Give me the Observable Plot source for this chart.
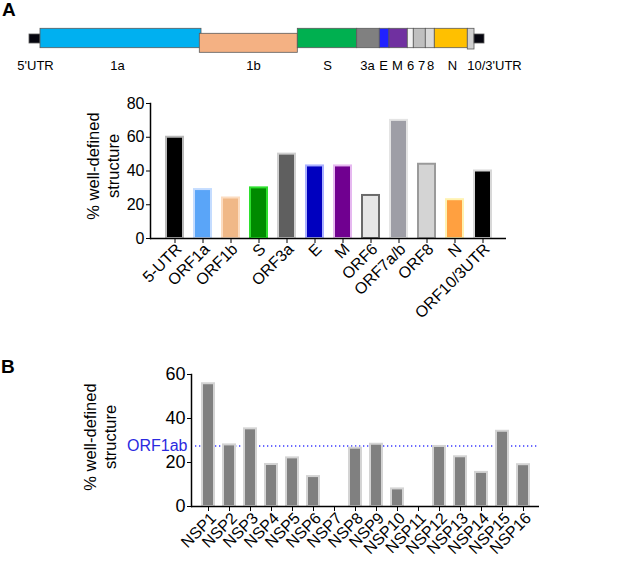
<!DOCTYPE html>
<html><head><meta charset="utf-8">
<script src="https://cdn.jsdelivr.net/npm/d3@7"></script>
<script src="https://cdn.jsdelivr.net/npm/@observablehq/plot@0.6"></script>
<style>
body{margin:0;background:#fff}
#root{position:relative;width:625px;height:561px;overflow:hidden;font-family:"Liberation Sans",Arial,sans-serif;color:#000}
.part{position:absolute;left:0}
.letter{position:absolute;font-weight:bold;font-size:19px;line-height:19px}
.ylab{position:absolute;width:200px;text-align:center;font-size:16.5px;line-height:20px;transform:rotate(-90deg)}
</style>
</head><body><div id="root"></div>
<script>
// ---------- Genome map (schematic map units) ----------
const genomeNames  = ["5'end","1a","1b","S","3a","E","M","6","7","8","N","10","3'end"];
const genomeStart  = [29, 40, 199.3, 297.3, 356.7, 379.3, 389, 407.3, 413.3, 425.3, 434.3, 467.3, 474];
const genomeEnd    = [40, 201, 297.3, 356.7, 379.3, 389, 407.3, 413.3, 425.3, 434.3, 467.3, 474, 484];
const genomeTrack  = ["cap","main","lower","main","main","main","main","main","main","main","main","tail","cap"];
const genomeColors = ["#05050f","#00b0f0","#f4b183","#00b050","#808080","#2121ff","#7030a0","#f2f2f2","#bfbfbf","#d9d9d9","#ffc000","#d0d0d0","#05050f"];
const genomeLabels = ["5'UTR","1a","1b","S","3a","E","M","6","7","8","N","10/3'UTR"];
const genomeLabelAt = [35, 117, 253, 327, 367, 383, 397, 410, 421, 430, 452, 494];

// ---------- Panel A ----------
const regionsA = ["5-UTR","ORF1a","ORF1b","S","ORF3a","E","M","ORF6","ORF7a/b","ORF8","N","ORF10/3UTR"];
const valuesA  = [60, 29, 24, 30, 50, 43, 43, 25.5, 70, 44, 23, 40];
const fillsA   = ["#000000","#5aa5f8","#f0b887","#008a00","#5f5f5f","#0000bf","#700090","#e6e6e6","#9e9ea6","#d4d4d4","#ffa040","#000000"];
const strokesA = ["#b8b8b8","#c4dcff","#fcdcc0","#2ee02e","#cfcfcf","#aab0ff","#e6b8f0","#6a6a6a","#e4e4e4","#9a9a9a","#fff2b0","#d8d8d8"];
const ticksA   = [0, 20, 40, 60, 80];

// ---------- Panel B ----------
const nsps    = ["NSP1","NSP2","NSP3","NSP4","NSP5","NSP6","NSP7","NSP8","NSP9","NSP10","NSP11","NSP12","NSP13","NSP14","NSP15","NSP16"];
const valuesB = [55.8, 28, 35.3, 19.1, 22.1, 13.6, 0, 26.5, 28.3, 8, 0, 27.3, 22.6, 15.5, 34.2, 19];
const orf1ab  = 27.5;
const ticksB  = [0, 20, 40, 60];

const FONT = '"Liberation Sans", Arial, sans-serif';
const root = document.getElementById("root");
function place(node, top) { const d = document.createElement("div"); d.className = "part"; d.style.top = top + "px"; d.appendChild(node); root.appendChild(d); return node; }
function html(cls, text, left, top) { const d = document.createElement("div"); d.className = cls; d.innerHTML = text; d.style.left = left + "px"; d.style.top = top + "px"; root.appendChild(d); return d; }

// Genome map
const trackY = {cap: [34, 43], main: [28.3, 47.7], lower: [33.3, 52.3], tail: [28.3, 49]};
const genome = genomeNames.map((n, i) => ({n, x1: genomeStart[i], x2: genomeEnd[i], y1: trackY[genomeTrack[i]][0], y2: trackY[genomeTrack[i]][1], fill: genomeColors[i]}));
const glabels = genomeLabels.map((t, i) => ({t, x: genomeLabelAt[i]}));
place(Plot.plot({
  width: 625, height: 80, margin: 0,
  x: {domain: [0, 625], range: [0, 625], axis: null},
  y: {domain: [0, 80], range: [0, 80], axis: null},
  style: {fontFamily: FONT, background: "transparent"},
  marks: [
    Plot.rect(genome, {x1: "x1", x2: "x2", y1: "y1", y2: "y2", fill: "fill", stroke: "#5a5a5a", strokeWidth: 0.8}),
    Plot.text(glabels, {x: "x", y: () => 65, text: "t", fontSize: 13, fill: "#000"})
  ]
}), 0);

// Panel A
const dataA = regionsA.map((r, i) => ({r, v: valuesA[i], fill: fillsA[i], stroke: strokesA[i]}));
place(Plot.plot({
  width: 625, height: 255,
  marginLeft: 150, marginRight: 119, marginTop: 18, marginBottom: 102,
  style: {fontFamily: FONT, fontSize: "16px", color: "#000", background: "transparent"},
  x: {type: "band", domain: regionsA, paddingInner: 0.41, paddingOuter: 0.36, axis: null},
  y: {domain: [0, 80], ticks: ticksA, tickSize: 4, tickPadding: 2, label: null},
  marks: [
    Plot.barY(dataA, {x: "r", y: "v", fill: "fill", stroke: "stroke", strokeWidth: 2}),
    Plot.axisX({tickSize: 5, tickFormat: () => "", label: null}),
    Plot.axisX({tickSize: 0, tickPadding: 8, tickRotate: -45, dx: 4, label: null, fontSize: 16}),
    Plot.ruleY([0], {stroke: "#000", strokeWidth: 1.5}),
    Plot.frame({anchor: "left", stroke: "#000", strokeWidth: 1.5})
  ]
}), 85);

// Panel B
const dataB = nsps.map((n, i) => ({n, v: valuesB[i]}));
const plotB = place(Plot.plot({
  width: 625, height: 201,
  marginLeft: 191, marginRight: 86, marginTop: 14, marginBottom: 55,
  style: {fontFamily: FONT, fontSize: "16px", color: "#000", background: "transparent"},
  x: {type: "band", domain: nsps, paddingInner: 0.44, paddingOuter: 0.46, axis: null},
  y: {domain: [0, 60], ticks: ticksB, tickSize: 4, tickPadding: 2, label: null},
  marks: [
    Plot.ruleY([orf1ab], {stroke: "#3a3aff", strokeWidth: 1.3, strokeDasharray: "1.3,2.7", insetLeft: 4}),
    Plot.text([orf1ab], {y: d => d, frameAnchor: "left", dx: -4, textAnchor: "end", text: () => "ORF1ab", fill: "#2a2ae0", fontSize: 16}),
    Plot.barY(dataB, {x: "n", y: "v", fill: "#808080", stroke: "#d4d4d4", strokeWidth: 2}),
    Plot.axisX({tickSize: 5, tickFormat: () => "", label: null}),
    Plot.axisX({tickSize: 0, tickPadding: 9, tickRotate: -45, dx: 5, label: null, fontSize: 16}),
    Plot.axisY({ticks: ticksB, tickSize: 4, tickPadding: 2, label: null, fontSize: 18}),
    Plot.ruleY([0], {stroke: "#000", strokeWidth: 1.5}),
    Plot.frame({anchor: "left", stroke: "#000", strokeWidth: 1.5})
  ]
}), 360);

// Panel letters and y-axis titles
html("letter", "A", 2, 0);
html("letter", "B", 1, 357);
html("ylab", "% well-defined<br>structure", 103 - 100, 166 - 20);
html("ylab", "% well-defined<br>structure", 100 - 100, 437 - 20);
</script>
</body></html>
